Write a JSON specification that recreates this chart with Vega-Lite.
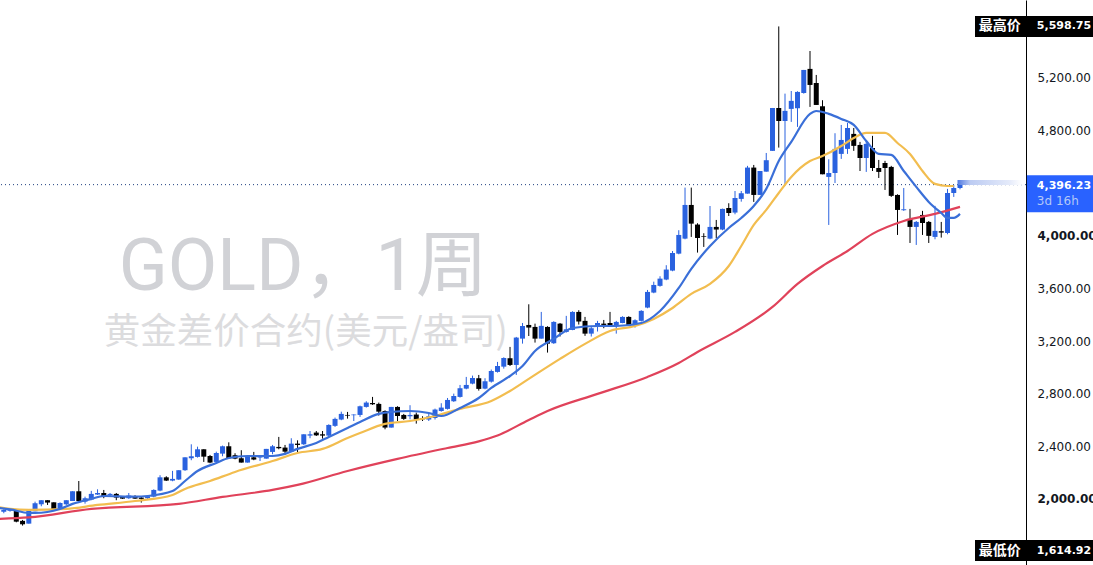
{
  "$schema": "https://vega.github.io/schema/vega-lite/v6.json",
  "description": "GOLD weekly candles with three moving averages",
  "width": 1026,
  "height": 565,
  "autosize": {"type": "none"},
  "padding": {"left": 0, "top": 0, "right": 67, "bottom": 0},
  "background": "white",
  "datasets": {
    "candles": [
      {"i":0,"open":1911,"high":1929,"low":1899,"close":1924},
      {"i":1,"open":1917,"high":1937,"low":1911,"close":1932},
      {"i":2,"open":1917,"high":1922,"low":1830,"close":1835},
      {"i":3,"open":1841,"high":1848,"low":1805,"close":1815},
      {"i":4,"open":1820,"high":1929,"low":1820,"close":1922},
      {"i":5,"open":1914,"high":1987,"low":1914,"close":1975},
      {"i":6,"open":1967,"high":1998,"low":1952,"close":1998},
      {"i":7,"open":1998,"high":1998,"low":1962,"close":1980},
      {"i":8,"open":1982,"high":1982,"low":1927,"close":1927},
      {"i":9,"open":1927,"high":1982,"low":1927,"close":1977},
      {"i":10,"open":1967,"high":1998,"low":1962,"close":1998},
      {"i":11,"open":1992,"high":2066,"low":1992,"close":2066},
      {"i":12,"open":2066,"high":2144,"low":1992,"close":1992},
      {"i":13,"open":1987,"high":2025,"low":1972,"close":2013},
      {"i":14,"open":2003,"high":2069,"low":1998,"close":2046},
      {"i":15,"open":2041,"high":2081,"low":2038,"close":2053},
      {"i":16,"open":2053,"high":2076,"low":2013,"close":2028},
      {"i":17,"open":2038,"high":2053,"low":2023,"close":2046},
      {"i":18,"open":2046,"high":2053,"low":1998,"close":2018},
      {"i":19,"open":2025,"high":2030,"low":2008,"close":2010},
      {"i":20,"open":2013,"high":2053,"low":2008,"close":2033},
      {"i":21,"open":2030,"high":2036,"low":2008,"close":2010},
      {"i":22,"open":2018,"high":2030,"low":1980,"close":2008},
      {"i":23,"open":2013,"high":2036,"low":2008,"close":2028},
      {"i":24,"open":2025,"high":2081,"low":2020,"close":2076},
      {"i":25,"open":2071,"high":2188,"low":2066,"close":2172},
      {"i":26,"open":2172,"high":2180,"low":2144,"close":2147},
      {"i":27,"open":2147,"high":2221,"low":2142,"close":2160},
      {"i":28,"open":2155,"high":2226,"low":2152,"close":2226},
      {"i":29,"open":2226,"high":2324,"low":2221,"close":2324},
      {"i":30,"open":2317,"high":2423,"low":2302,"close":2332},
      {"i":31,"open":2327,"high":2405,"low":2322,"close":2385},
      {"i":32,"open":2385,"high":2385,"low":2289,"close":2329},
      {"i":33,"open":2334,"high":2342,"low":2279,"close":2284},
      {"i":34,"open":2289,"high":2367,"low":2284,"close":2357},
      {"i":35,"open":2352,"high":2413,"low":2332,"close":2408},
      {"i":36,"open":2408,"high":2438,"low":2317,"close":2317},
      {"i":37,"open":2340,"high":2355,"low":2309,"close":2314},
      {"i":38,"open":2317,"high":2378,"low":2284,"close":2284},
      {"i":39,"open":2284,"high":2334,"low":2284,"close":2329},
      {"i":40,"open":2324,"high":2365,"low":2302,"close":2307},
      {"i":41,"open":2322,"high":2334,"low":2296,"close":2329},
      {"i":42,"open":2314,"high":2388,"low":2314,"close":2388},
      {"i":43,"open":2365,"high":2418,"low":2347,"close":2408},
      {"i":44,"open":2403,"high":2479,"low":2385,"close":2393},
      {"i":45,"open":2398,"high":2418,"low":2347,"close":2367},
      {"i":46,"open":2367,"high":2469,"low":2365,"close":2428},
      {"i":47,"open":2428,"high":2453,"low":2360,"close":2418},
      {"i":48,"open":2423,"high":2499,"low":2418,"close":2499},
      {"i":49,"open":2489,"high":2524,"low":2469,"close":2499},
      {"i":50,"open":2512,"high":2524,"low":2486,"close":2491},
      {"i":51,"open":2499,"high":2524,"low":2466,"close":2489},
      {"i":52,"open":2489,"high":2575,"low":2484,"close":2570},
      {"i":53,"open":2563,"high":2626,"low":2555,"close":2616},
      {"i":54,"open":2611,"high":2671,"low":2606,"close":2654},
      {"i":55,"open":2646,"high":2669,"low":2618,"close":2641},
      {"i":56,"open":2644,"high":2651,"low":2600,"close":2649},
      {"i":57,"open":2646,"high":2717,"low":2631,"close":2712},
      {"i":58,"open":2707,"high":2750,"low":2702,"close":2740},
      {"i":59,"open":2737,"high":2783,"low":2722,"close":2727},
      {"i":60,"open":2730,"high":2740,"low":2641,"close":2671},
      {"i":61,"open":2676,"high":2681,"low":2537,"close":2550},
      {"i":62,"open":2550,"high":2707,"low":2550,"close":2707},
      {"i":63,"open":2707,"high":2712,"low":2600,"close":2638},
      {"i":64,"open":2646,"high":2654,"low":2608,"close":2616},
      {"i":65,"open":2636,"high":2720,"low":2613,"close":2646},
      {"i":66,"open":2649,"high":2664,"low":2580,"close":2611},
      {"i":67,"open":2621,"high":2636,"low":2600,"close":2613},
      {"i":68,"open":2611,"high":2656,"low":2600,"close":2636},
      {"i":69,"open":2623,"high":2694,"low":2611,"close":2687},
      {"i":70,"open":2676,"high":2735,"low":2671,"close":2702},
      {"i":71,"open":2692,"high":2775,"low":2687,"close":2760},
      {"i":72,"open":2750,"high":2808,"low":2745,"close":2790},
      {"i":73,"open":2783,"high":2874,"low":2778,"close":2849},
      {"i":74,"open":2846,"high":2935,"low":2841,"close":2874},
      {"i":75,"open":2884,"high":2945,"low":2879,"close":2927},
      {"i":76,"open":2925,"high":2950,"low":2831,"close":2844},
      {"i":77,"open":2846,"high":2925,"low":2841,"close":2902},
      {"i":78,"open":2899,"high":2991,"low":2892,"close":2980},
      {"i":79,"open":2973,"high":3049,"low":2968,"close":3018},
      {"i":80,"open":3013,"high":3084,"low":2998,"close":3079},
      {"i":81,"open":3077,"high":3163,"low":3018,"close":3026},
      {"i":82,"open":3026,"high":3239,"low":2950,"close":3234},
      {"i":83,"open":3226,"high":3345,"low":3188,"close":3322},
      {"i":84,"open":3330,"high":3487,"low":3246,"close":3310},
      {"i":85,"open":3315,"high":3340,"low":3196,"close":3226},
      {"i":86,"open":3226,"high":3429,"low":3226,"close":3323},
      {"i":87,"open":3315,"high":3320,"low":3120,"close":3188},
      {"i":88,"open":3191,"high":3358,"low":3186,"close":3353},
      {"i":89,"open":3340,"high":3345,"low":3242,"close":3277},
      {"i":90,"open":3277,"high":3399,"low":3272,"close":3297},
      {"i":91,"open":3292,"high":3434,"low":3290,"close":3429},
      {"i":92,"open":3429,"high":3442,"low":3333,"close":3356},
      {"i":93,"open":3361,"high":3391,"low":3247,"close":3264},
      {"i":94,"open":3264,"high":3323,"low":3242,"close":3305},
      {"i":95,"open":3317,"high":3361,"low":3280,"close":3345},
      {"i":96,"open":3340,"high":3368,"low":3305,"close":3330},
      {"i":97,"open":3345,"high":3429,"low":3315,"close":3325},
      {"i":98,"open":3328,"high":3361,"low":3264,"close":3353},
      {"i":99,"open":3345,"high":3396,"low":3343,"close":3391},
      {"i":100,"open":3391,"high":3396,"low":3323,"close":3328},
      {"i":101,"open":3325,"high":3373,"low":3310,"close":3366},
      {"i":102,"open":3361,"high":3442,"low":3356,"close":3437},
      {"i":103,"open":3462,"high":3596,"low":3457,"close":3581},
      {"i":104,"open":3576,"high":3659,"low":3571,"close":3634},
      {"i":105,"open":3627,"high":3700,"low":3621,"close":3682},
      {"i":106,"open":3675,"high":3784,"low":3670,"close":3751},
      {"i":107,"open":3743,"high":3892,"low":3738,"close":3877},
      {"i":108,"open":3872,"high":4050,"low":3867,"close":4014},
      {"i":109,"open":3986,"high":4374,"low":3981,"close":4242},
      {"i":110,"open":4242,"high":4374,"low":3999,"close":4100},
      {"i":111,"open":4093,"high":4103,"low":3880,"close":3991},
      {"i":112,"open":4004,"high":4027,"low":3923,"close":3999},
      {"i":113,"open":3986,"high":4234,"low":3981,"close":4075},
      {"i":114,"open":4075,"high":4128,"low":3989,"close":4055},
      {"i":115,"open":4055,"high":4214,"low":4050,"close":4212},
      {"i":116,"open":4219,"high":4255,"low":4158,"close":4181},
      {"i":117,"open":4184,"high":4348,"low":4171,"close":4295},
      {"i":118,"open":4288,"high":4348,"low":4267,"close":4331},
      {"i":119,"open":4328,"high":4539,"low":4328,"close":4526},
      {"i":120,"open":4526,"high":4546,"low":4265,"close":4318},
      {"i":121,"open":4318,"high":4500,"low":4318,"close":4500},
      {"i":122,"open":4495,"high":4637,"low":4495,"close":4582},
      {"i":123,"open":4653,"high":4979,"low":4653,"close":4979},
      {"i":124,"open":4979,"high":5598.75,"low":4678,"close":4880},
      {"i":125,"open":4880,"high":5088,"low":4394,"close":4957},
      {"i":126,"open":4972,"high":5108,"low":4873,"close":5033},
      {"i":127,"open":4977,"high":5106,"low":4835,"close":5101},
      {"i":128,"open":5093,"high":5268,"low":5088,"close":5268},
      {"i":129,"open":5276,"high":5412,"low":4987,"close":5154},
      {"i":130,"open":5169,"high":5230,"low":5002,"close":5002},
      {"i":131,"open":4992,"high":5038,"low":4475,"close":4475},
      {"i":132,"open":4455,"high":4589,"low":4090,"close":4485},
      {"i":133,"open":4485,"high":4787,"low":4409,"close":4668},
      {"i":134,"open":4630,"high":4850,"low":4592,"close":4736},
      {"i":135,"open":4668,"high":4865,"low":4630,"close":4827},
      {"i":136,"open":4782,"high":4827,"low":4653,"close":4691},
      {"i":137,"open":4698,"high":4721,"low":4500,"close":4599},
      {"i":138,"open":4599,"high":4728,"low":4493,"close":4706},
      {"i":139,"open":4675,"high":4767,"low":4500,"close":4523},
      {"i":140,"open":4523,"high":4584,"low":4447,"close":4493},
      {"i":141,"open":4561,"high":4577,"low":4356,"close":4523},
      {"i":142,"open":4531,"high":4539,"low":4303,"close":4311},
      {"i":143,"open":4318,"high":4323,"low":4014,"close":4204},
      {"i":144,"open":4202,"high":4371,"low":4197,"close":4209},
      {"i":145,"open":4136,"high":4212,"low":3953,"close":4075},
      {"i":146,"open":4075,"high":4120,"low":3938,"close":4113},
      {"i":147,"open":4166,"high":4197,"low":4014,"close":4105},
      {"i":148,"open":4113,"high":4120,"low":3953,"close":4007},
      {"i":149,"open":3999,"high":4235,"low":3981,"close":4045},
      {"i":150,"open":4042,"high":4113,"low":3994,"close":4032},
      {"i":151,"open":4029,"high":4364,"low":4019,"close":4333},
      {"i":152,"open":4333,"high":4394,"low":4303,"close":4371},
      {"i":153,"open":4371,"high":4404,"low":4361,"close":4396.23}
    ],
    "averages": [
      {"i":-1,"ma":"long","price":1856},{"i":4,"ma":"long","price":1867},{"i":14,"ma":"long","price":1932},
      {"i":28,"ma":"long","price":1970},{"i":35,"ma":"long","price":2023},{"i":43,"ma":"long","price":2076},
      {"i":47,"ma":"long","price":2114},{"i":55,"ma":"long","price":2220},{"i":63,"ma":"long","price":2312},
      {"i":71,"ma":"long","price":2395},{"i":76,"ma":"long","price":2445},{"i":79,"ma":"long","price":2490},
      {"i":84,"ma":"long","price":2608},{"i":87,"ma":"long","price":2676},{"i":95,"ma":"long","price":2806},
      {"i":103,"ma":"long","price":2935},{"i":108,"ma":"long","price":3041},{"i":111,"ma":"long","price":3125},
      {"i":117,"ma":"long","price":3277},{"i":123,"ma":"long","price":3467},{"i":127,"ma":"long","price":3642},
      {"i":131,"ma":"long","price":3778},{"i":135,"ma":"long","price":3892},{"i":139,"ma":"long","price":4022},
      {"i":144,"ma":"long","price":4120},{"i":149,"ma":"long","price":4174},{"i":153,"ma":"long","price":4227},
      {"i":-1,"ma":"mid","price":1947},{"i":1,"ma":"mid","price":1932},{"i":4,"ma":"mid","price":1924},
      {"i":10,"ma":"mid","price":1932},{"i":15,"ma":"mid","price":1962},{"i":21,"ma":"mid","price":1992},
      {"i":27,"ma":"mid","price":2038},{"i":29,"ma":"mid","price":2084},{"i":33,"ma":"mid","price":2144},
      {"i":37,"ma":"mid","price":2213},{"i":43,"ma":"mid","price":2296},{"i":47,"ma":"mid","price":2357},
      {"i":51,"ma":"mid","price":2388},{"i":55,"ma":"mid","price":2471},{"i":57,"ma":"mid","price":2509},
      {"i":61,"ma":"mid","price":2578},{"i":65,"ma":"mid","price":2600},{"i":69,"ma":"mid","price":2638},
      {"i":73,"ma":"mid","price":2692},{"i":78,"ma":"mid","price":2752},{"i":81,"ma":"mid","price":2828},
      {"i":84,"ma":"mid","price":2920},{"i":89,"ma":"mid","price":3072},{"i":93,"ma":"mid","price":3186},
      {"i":97,"ma":"mid","price":3284},{"i":101,"ma":"mid","price":3322},{"i":104,"ma":"mid","price":3376},
      {"i":107,"ma":"mid","price":3459},{"i":110,"ma":"mid","price":3566},{"i":113,"ma":"mid","price":3642},
      {"i":116,"ma":"mid","price":3778},{"i":118,"ma":"mid","price":3930},{"i":120,"ma":"mid","price":4090},
      {"i":122,"ma":"mid","price":4204},{"i":124,"ma":"mid","price":4333},{"i":126,"ma":"mid","price":4455},
      {"i":129,"ma":"mid","price":4576},{"i":131,"ma":"mid","price":4614},{"i":134,"ma":"mid","price":4690},
      {"i":136,"ma":"mid","price":4751},{"i":138,"ma":"mid","price":4789},{"i":141,"ma":"mid","price":4789},
      {"i":143,"ma":"mid","price":4713},{"i":145,"ma":"mid","price":4630},{"i":147,"ma":"mid","price":4500},
      {"i":149,"ma":"mid","price":4402},{"i":151,"ma":"mid","price":4386},{"i":152,"ma":"mid","price":4386},
      {"i":-1,"ma":"short","price":1939},{"i":1,"ma":"short","price":1928},{"i":4,"ma":"short","price":1901},
      {"i":5,"ma":"short","price":1901},{"i":9,"ma":"short","price":1932},{"i":11,"ma":"short","price":1970},
      {"i":14,"ma":"short","price":2008},{"i":16,"ma":"short","price":2030},{"i":21,"ma":"short","price":2025},
      {"i":23,"ma":"short","price":2030},{"i":27,"ma":"short","price":2068},{"i":29,"ma":"short","price":2144},
      {"i":31,"ma":"short","price":2220},{"i":34,"ma":"short","price":2281},{"i":36,"ma":"short","price":2319},
      {"i":39,"ma":"short","price":2334},{"i":43,"ma":"short","price":2334},{"i":45,"ma":"short","price":2350},
      {"i":47,"ma":"short","price":2388},{"i":50,"ma":"short","price":2433},{"i":52,"ma":"short","price":2479},
      {"i":55,"ma":"short","price":2547},{"i":57,"ma":"short","price":2593},{"i":60,"ma":"short","price":2654},
      {"i":62,"ma":"short","price":2669},{"i":65,"ma":"short","price":2676},{"i":68,"ma":"short","price":2661},
      {"i":70,"ma":"short","price":2638},{"i":73,"ma":"short","price":2699},{"i":76,"ma":"short","price":2775},
      {"i":78,"ma":"short","price":2851},{"i":81,"ma":"short","price":2942},{"i":83,"ma":"short","price":3018},
      {"i":85,"ma":"short","price":3132},{"i":88,"ma":"short","price":3224},{"i":91,"ma":"short","price":3307},
      {"i":95,"ma":"short","price":3322},{"i":98,"ma":"short","price":3322},{"i":102,"ma":"short","price":3345},
      {"i":105,"ma":"short","price":3436},{"i":108,"ma":"short","price":3611},{"i":110,"ma":"short","price":3756},
      {"i":113,"ma":"short","price":3930},{"i":116,"ma":"short","price":4067},{"i":118,"ma":"short","price":4143},
      {"i":120,"ma":"short","price":4234},{"i":122,"ma":"short","price":4364},{"i":124,"ma":"short","price":4576},
      {"i":126,"ma":"short","price":4721},{"i":129,"ma":"short","price":4934},{"i":130,"ma":"short","price":4956},
      {"i":132,"ma":"short","price":4934},{"i":134,"ma":"short","price":4896},{"i":136,"ma":"short","price":4850},
      {"i":138,"ma":"short","price":4728},{"i":140,"ma":"short","price":4630},{"i":142,"ma":"short","price":4622},
      {"i":144,"ma":"short","price":4500},{"i":146,"ma":"short","price":4379},{"i":148,"ma":"short","price":4265},
      {"i":150,"ma":"short","price":4181},{"i":151,"ma":"short","price":4143},{"i":152,"ma":"short","price":4143},
      {"i":153,"ma":"short","price":4174}
    ],
    "extremes": [
      {"name":"最高价","price":5598.75},
      {"name":"最低价","price":1614.92}
    ]
  },
  "layer": [
    {
      "data": {"values": [{"i":18.4,"price":3596,"text":"GOLD，1周"}]},
      "mark": {"type":"text","align":"left","baseline":"alphabetic","font":"Roboto, Noto Sans CJK SC","fontSize":72,"color":"#d1d2d6"},
      "encoding": {
        "x": {"field":"i","type":"quantitative","axis":null,"scale":{"domain":[-0.608,163.56],"nice":false,"zero":false,"padding":0}},
        "y": {"field":"price","type":"quantitative","title":null,"scale":{"domain":[1505.6,5799.6],"nice":false,"zero":false,"padding":0},
          "axis": {"orient":"right","values":[2000,2400,2800,3200,3600,4000,4400,4800,5200],"format":",.2f","grid":false,"ticks":false,"title":null,
            "domainColor":"#000000","domainWidth":1,"labelColor":"#131722","labelFont":"DejaVu Sans","labelFontSize":12,"labelPadding":11,"labelOffset":-1,"labelOverlap":false,"labelBound":false,"labelFlush":false,
            "labelFontWeight":{"condition":{"test":"datum.value==4000||datum.value==2000","value":"bold"},"value":"normal"},
            "labelExpr":"datum.value==4400?'':datum.label"}},
        "text": {"field":"text"}
      }
    },
    {
      "data": {"values": [{"i":16.0,"price":3186,"text":"黄金差价合约(美元/盎司)"}]},
      "mark": {"type":"text","align":"left","baseline":"alphabetic","font":"Noto Sans CJK SC","fontSize":36.5,"color":"#dcdcde"},
      "encoding": {
        "x": {"field":"i","type":"quantitative","axis":null},
        "y": {"field":"price","type":"quantitative","title":null},
        "text": {"field":"text"}
      }
    },
    {
      "data": {"values": [{"price":4396.23}]},
      "mark": {"type":"rule","strokeDash":[1,3],"strokeWidth":1,"color":"#1f3f7f"},
      "encoding": {"y": {"field":"price","type":"quantitative","title":null}}
    },
    {
      "data": {"name":"candles"},
      "mark": {"type":"rule","strokeWidth":1},
      "encoding": {
        "x": {"field":"i","type":"quantitative","axis":null},
        "y": {"field":"low","type":"quantitative","title":null},
        "y2": {"field":"high"},
        "color": {"condition":{"test":"datum.close >= datum.open","value":"#2a62df"},"value":"#000000"}
      }
    },
    {
      "data": {"name":"candles"},
      "mark": {"type":"bar","size":5},
      "encoding": {
        "x": {"field":"i","type":"quantitative","axis":null},
        "y": {"field":"open","type":"quantitative","title":null},
        "y2": {"field":"close"},
        "color": {"condition":{"test":"datum.close >= datum.open","value":"#2a62df"},"value":"#000000"}
      }
    },
    {
      "data": {"name":"averages"},
      "mark": {"type":"line","interpolate":"monotone","strokeWidth":2.2,"clip":true},
      "encoding": {
        "x": {"field":"i","type":"quantitative","axis":null},
        "y": {"field":"price","type":"quantitative","title":null},
        "color": {"field":"ma","type":"nominal","legend":null,"sort":null,"scale":{"domain":["long","mid","short"],"range":["#e0425a","#f2bd4f","#3a6fd8"]}},
        "order": {"field":"i","type":"quantitative"}
      }
    },
    {
      "data": {"values": [{"price":4412}]},
      "mark": {"type":"bar","orient":"horizontal","height":5,
        "color":{"gradient":"linear","x1":0,"x2":1,"y1":0,"y2":0,"stops":[{"offset":0,"color":"#4f78e0"},{"offset":0.2,"color":"#bccbf2"},{"offset":0.8,"color":"#e4eafa"},{"offset":1,"color":"#ffffff"}]}},
      "encoding": {
        "x": {"datum":152.6,"type":"quantitative","axis":null},
        "x2": {"datum":162.9},
        "y": {"field":"price","type":"quantitative","title":null}
      }
    },
    {
      "data": {"name":"extremes"},
      "mark": {"type":"bar","orient":"horizontal","height":21,"color":"#000000"},
      "encoding": {
        "x": {"datum":155.4,"type":"quantitative","axis":null},
        "x2": {"datum":174.3},
        "y": {"field":"price","type":"quantitative","title":null}
      }
    },
    {
      "data": {"name":"extremes"},
      "mark": {"type":"text","align":"left","baseline":"middle","font":"Noto Sans CJK SC","fontSize":14,"fontWeight":"bold","color":"#ffffff"},
      "encoding": {
        "x": {"datum":156.0,"type":"quantitative","axis":null},
        "y": {"field":"price","type":"quantitative","title":null},
        "text": {"field":"name"}
      }
    },
    {
      "data": {"name":"extremes"},
      "mark": {"type":"text","align":"left","baseline":"middle","font":"DejaVu Sans","fontSize":11,"fontWeight":"bold","color":"#ffffff"},
      "encoding": {
        "x": {"datum":165.3,"type":"quantitative","axis":null},
        "y": {"field":"price","type":"quantitative","title":null},
        "text": {"field":"price","type":"quantitative","format":",.2f"}
      }
    },
    {
      "data": {"values": [{"price":4396.23}]},
      "mark": {"type":"bar","orient":"horizontal","height":37,"yOffset":9,"color":"#2962ff"},
      "encoding": {
        "x": {"datum":163.7,"type":"quantitative","axis":null},
        "x2": {"datum":174.3},
        "y": {"field":"price","type":"quantitative","title":null}
      }
    },
    {
      "data": {"values": [{"price":4396.23}]},
      "mark": {"type":"text","align":"left","baseline":"middle","dy":1,"font":"DejaVu Sans","fontSize":11,"fontWeight":"bold","color":"#ffffff"},
      "encoding": {
        "x": {"datum":165.3,"type":"quantitative","axis":null},
        "y": {"field":"price","type":"quantitative","title":null},
        "text": {"field":"price","type":"quantitative","format":",.2f"}
      }
    },
    {
      "data": {"values": [{"price":4396.23,"text":"3d 16h"}]},
      "mark": {"type":"text","align":"left","baseline":"middle","dy":16,"font":"DejaVu Sans","fontSize":12,"color":"#b3c8f7"},
      "encoding": {
        "x": {"datum":165.3,"type":"quantitative","axis":null},
        "y": {"field":"price","type":"quantitative","title":null},
        "text": {"field":"text"}
      }
    }
  ],
  "config": {"view": {"stroke": null}}
}
